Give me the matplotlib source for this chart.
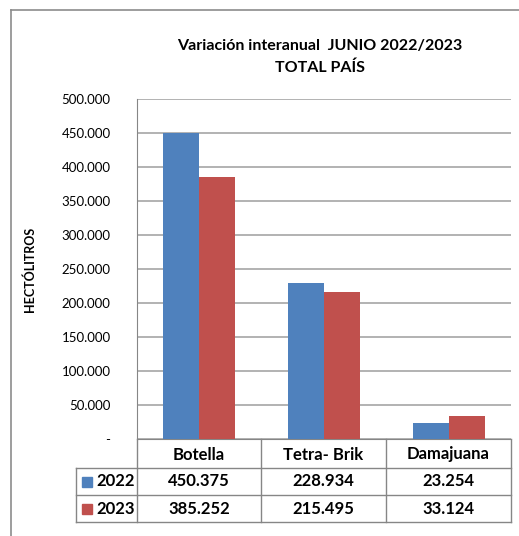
import matplotlib
matplotlib.use("Agg")
import matplotlib.pyplot as plt
from matplotlib.lines import Line2D
from matplotlib.patches import Rectangle
import numpy as np

categories = ["Botella", "Tetra- Brik", "Damajuana"]
series_names = ["2022", "2023"]
values_2022 = [450375, 228934, 23254]
values_2023 = [385252, 215495, 33124]
colors = ["#4F81BD", "#C0504D"]
yticks = [0, 50000, 100000, 150000, 200000, 250000, 300000, 350000, 400000, 450000, 500000]

def fmt(v):
    if v == 0:
        return "-"
    return f"{v:,.0f}".replace(",", ".")

W, H = 519, 536
fig = plt.figure(figsize=(W / 100, H / 100), dpi=100)
plt.rcParams['font.family'] = ['Lato', 'DejaVu Sans']

def fx(x):
    return x / W

def fy(y):
    return 1 - y / H

L, R, T, B = 137, 511, 99, 439
ax = fig.add_axes([fx(L), fy(B), (R - L) / W, (B - T) / H])
x = np.arange(len(categories))
bw = 0.29
ax.bar(x - bw / 2, values_2022, bw, color=colors[0], zorder=3)
ax.bar(x + bw / 2, values_2023, bw, color=colors[1], zorder=3)
ax.set_xlim(-0.5, len(categories) - 0.5)
ax.set_ylim(0, 500000)
ax.set_yticks(yticks)
ax.set_yticklabels([fmt(v) for v in yticks], fontsize=9.5)
ax.yaxis.grid(True, color="#A6A6A6", linewidth=1.2, zorder=0)
ax.set_xticks([])
for s in ["top", "right"]:
    ax.spines[s].set_visible(False)
ax.spines["left"].set_color("#868686")
ax.spines["bottom"].set_color("#868686")
ax.tick_params(axis="y", length=0, pad=19)
ax.set_ylabel("HECTÓLITROS", fontsize=9, fontweight="bold", labelpad=18)

# Title
fig.text(fx(320), fy(46), "Variación interanual  JUNIO 2022/2023", ha="center", va="center",
         fontsize=11.5, fontweight="bold")
fig.text(fx(320), fy(68), "TOTAL PAÍS", ha="center", va="center", fontsize=11.5, fontweight="bold")

# Outer border (left and top)
lc = "#8C8C8C"
fig.add_artist(Line2D([fx(11), fx(11)], [fy(10), fy(536)], color=lc, lw=1.2, transform=fig.transFigure))
fig.add_artist(Line2D([fx(11), fx(519)], [fy(10), fy(10)], color=lc, lw=1.2, transform=fig.transFigure))

# Data table
tl = "#868686"
col_edges = [L, 261, 386, R]
row_edges = [B, 468, 495, 522]
tab_left = 76

def hline(y, x0, x1):
    fig.add_artist(Line2D([fx(x0), fx(x1)], [fy(y), fy(y)], color=tl, lw=1.0, transform=fig.transFigure))

def vline(x, y0, y1):
    fig.add_artist(Line2D([fx(x), fx(x)], [fy(y0), fy(y1)], color=tl, lw=1.0, transform=fig.transFigure))

for y in row_edges[1:]:
    hline(y, tab_left, R)
vline(tab_left, row_edges[1], row_edges[3])
for xe in col_edges:
    vline(xe, row_edges[0], row_edges[3])

for i, c in enumerate(categories):
    cx = (col_edges[i] + col_edges[i + 1]) / 2
    fig.text(fx(cx), fy((row_edges[0] + row_edges[1]) / 2 + 1), c, ha="center", va="center",
             fontsize=12, fontweight="bold")

for r, (name, vals, col) in enumerate(zip(series_names, [values_2022, values_2023], colors)):
    cy = (row_edges[r + 1] + row_edges[r + 2]) / 2
    fig.add_artist(Rectangle((fx(82), fy(cy + 5)), 10 / W, 10 / H, color=col, transform=fig.transFigure))
    fig.text(fx(96), fy(cy), name, ha="left", va="center", fontsize=12, fontweight="bold")
    for i, v in enumerate(vals):
        cx = (col_edges[i] + col_edges[i + 1]) / 2
        fig.text(fx(cx), fy(cy), fmt(v), ha="center", va="center", fontsize=12, fontweight="bold")

fig.savefig("out.png", dpi=100)
